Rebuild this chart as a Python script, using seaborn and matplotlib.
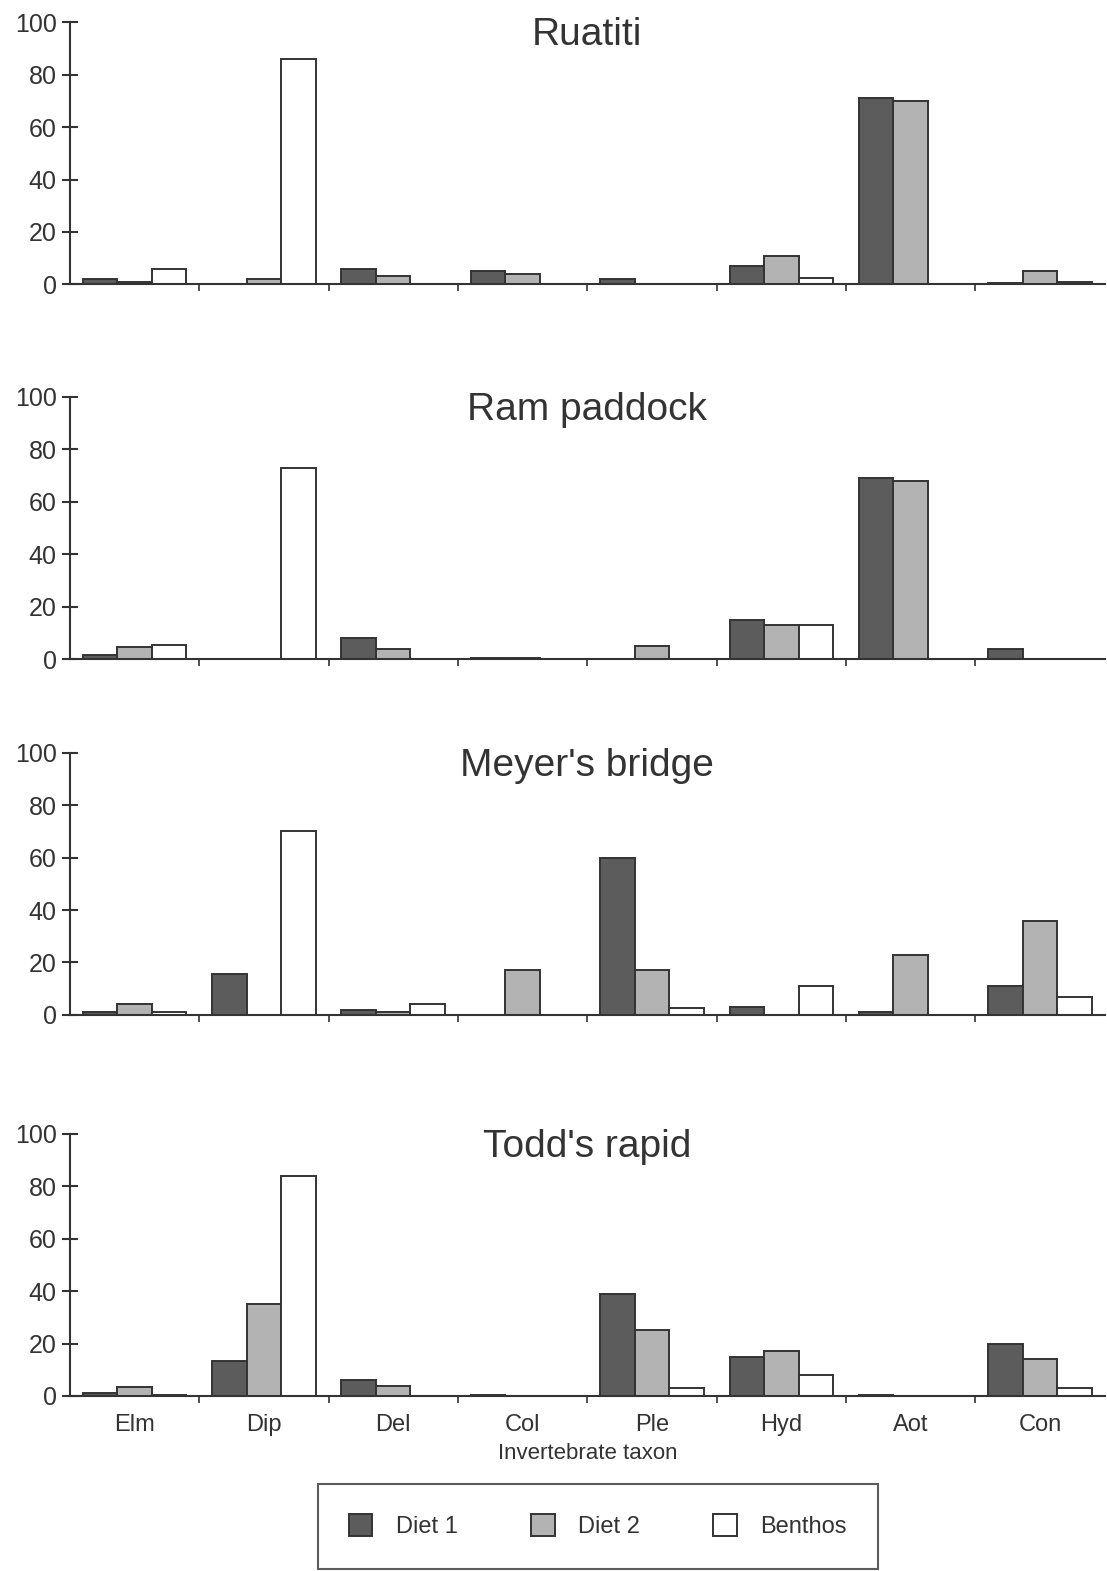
import pandas as pd
import matplotlib
matplotlib.use("Agg")
import matplotlib.pyplot as plt
from matplotlib.patches import Patch
from matplotlib.ticker import FixedLocator
import seaborn as sns

# values (% composition)
taxa = ["Elm", "Dip", "Del", "Col", "Ple", "Hyd", "Aot", "Con"]
sources = ["Diet 1", "Diet 2", "Benthos"]
sites = ["Ruatiti", "Ram paddock", "Meyer's bridge", "Todd's rapid"]

ruatiti_diet1 = [2, 0, 6, 5, 2, 7, 71, 0.5]
ruatiti_diet2 = [1, 2, 3, 4, 0, 11, 70, 5]
ruatiti_benthos = [6, 86, 0, 0, 0, 2.5, 0, 1]

ram_diet1 = [1.5, 0, 8, 0.5, 0, 15, 69, 4]
ram_diet2 = [4.5, 0, 4, 0.5, 5, 13, 68, 0]
ram_benthos = [5.5, 73, 0, 0, 0, 13, 0, 0]

meyer_diet1 = [1, 15.5, 2, 0, 60, 3, 1, 11]
meyer_diet2 = [4, 0, 1, 17, 17, 0, 23, 36]
meyer_benthos = [1, 70, 4, 0, 2.5, 11, 0, 7]

todd_diet1 = [1, 13.5, 6, 0.5, 39, 15, 0.5, 20]
todd_diet2 = [3.5, 35, 4, 0, 25, 17, 0, 14]
todd_benthos = [0.5, 84, 0, 0, 3, 8, 0, 3]

site_values = {
    "Ruatiti": [ruatiti_diet1, ruatiti_diet2, ruatiti_benthos],
    "Ram paddock": [ram_diet1, ram_diet2, ram_benthos],
    "Meyer's bridge": [meyer_diet1, meyer_diet2, meyer_benthos],
    "Todd's rapid": [todd_diet1, todd_diet2, todd_benthos],
}

rows = []
for site in sites:
    for src, vals in zip(sources, site_values[site]):
        for t, v in zip(taxa, vals):
            rows.append({"site": site, "taxon": t, "source": src, "value": v})
df = pd.DataFrame(rows)

sns.set_style("white")
plt.rcParams['font.family'] = ['Liberation Sans', 'DejaVu Sans']
ink = "#333333"
palette = {"Diet 1": "#5c5c5c", "Diet 2": "#b3b3b3", "Benthos": "#ffffff"}

fig = plt.figure(figsize=(11.07, 15.71), dpi=100)

bottoms = [0.819, 0.5805, 0.354, 0.1114]
height = 0.1668
left, width = 0.063, 0.935

for i, site in enumerate(sites):
    ax = fig.add_axes([left, bottoms[i], width, height])
    sub = df[df.site == site]
    sns.barplot(data=sub, x="taxon", y="value", hue="source", order=taxa,
                hue_order=sources, palette=palette, edgecolor=ink,
                linewidth=1.4, width=0.8, legend=False, ax=ax)

    ax.set_xlim(-0.5, 7.5)
    ax.set_ylim(0, 100)
    ax.set_yticks([0, 20, 40, 60, 80, 100])
    sns.despine(ax=ax)
    for s in ["left", "bottom"]:
        ax.spines[s].set_color(ink)
        ax.spines[s].set_linewidth(1.5)

    ax.tick_params(axis="y", left=True, direction="inout", length=11,
                   width=1.5, color=ink, labelsize=18, labelcolor=ink, pad=4)
    # small ticks between taxon groups
    ax.xaxis.set_minor_locator(FixedLocator([0.5 + k for k in range(7)]))
    ax.tick_params(axis="x", which="minor", bottom=True, direction="out",
                   length=5, width=1.2, color=ink)
    ax.tick_params(axis="x", which="major", bottom=False, length=0,
                   labelsize=17, labelcolor=ink, pad=13)
    ax.set_ylabel("")
    if i < 3:
        ax.set_xticklabels([])
        ax.set_xlabel("")
    else:
        ax.set_xlabel("Invertebrate taxon", fontsize=16, color=ink, labelpad=5)

    ax.text(0.5, 0.95, site, transform=ax.transAxes, ha="center",
            va="center", fontsize=28, color=ink)

handles = [Patch(facecolor=palette[s], edgecolor=ink, linewidth=1.4, label=s)
           for s in sources]
leg = fig.legend(handles=handles, loc="center", bbox_to_anchor=(0.54, 0.0285),
                 ncol=3, fontsize=17, frameon=True, fancybox=False,
                 handlelength=1.0, handleheight=1.0, handletextpad=1.0,
                 columnspacing=3.1, borderpad=1.3)
leg.get_frame().set_edgecolor(ink)
leg.get_frame().set_linewidth(1.5)
for txt in leg.get_texts():
    txt.set_color(ink)

fig.savefig("out.png", dpi=100)
